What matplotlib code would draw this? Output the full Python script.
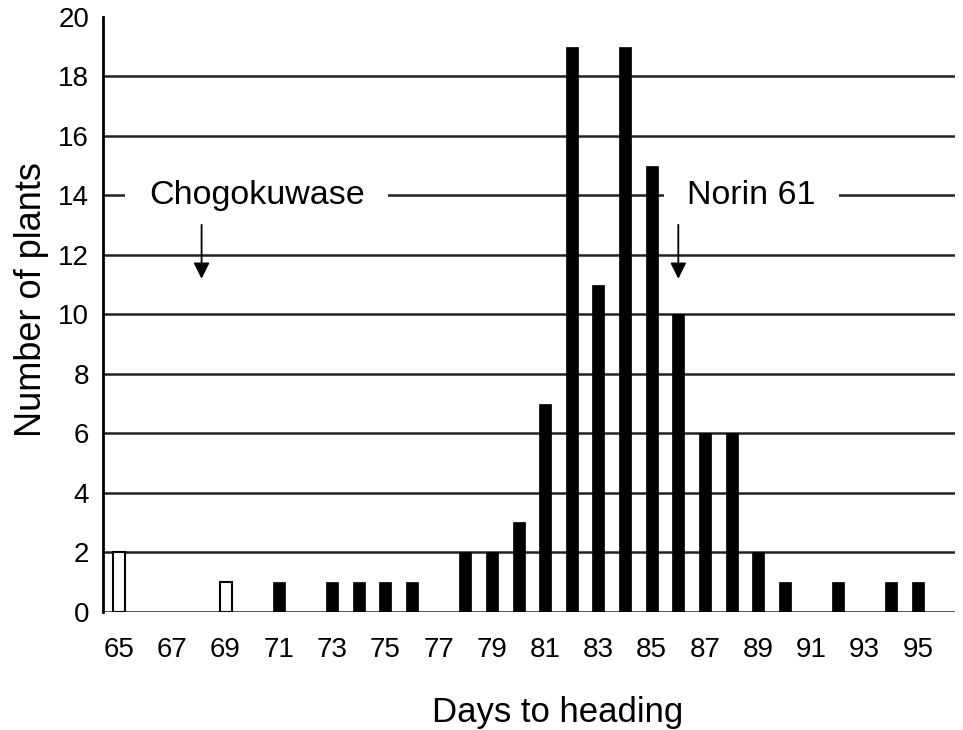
import matplotlib.pyplot as plt

plt.rcParams['font.family'] = ['Liberation Sans', 'DejaVu Sans']

# days to heading and counts (parents' plants in white, F2 in black)
parent_days = [65, 69]
parent_counts = [2, 1]
days = [71, 73, 74, 75, 76, 78, 79, 80, 81, 82, 83, 84, 85, 86, 87, 88, 89, 90, 92, 94, 95]
counts = [1, 1, 1, 1, 1, 2, 2, 3, 7, 19, 11, 19, 15, 10, 6, 6, 2, 1, 1, 1, 1]
xtick_days = list(range(65, 96, 2))
ytick_vals = list(range(0, 21, 2))

fig = plt.figure(figsize=(9.63, 7.3), dpi=100)
ax = fig.add_axes([0.107, 0.162, 0.885, 0.815])

# horizontal grid lines
for y in ytick_vals[:-1]:
    ax.axhline(y, color='#222222', linewidth=1.8, zorder=1)

ax.bar(parent_days, parent_counts, width=0.45, color='white', edgecolor='black',
       linewidth=1.5, zorder=3)
ax.bar(days, counts, width=0.45, color='black', edgecolor='black', linewidth=0.5, zorder=3)

# parent annotations
ax.text(70.17, 14, 'Chogokuwase', fontsize=24.5, ha='center', va='center', zorder=4,
        bbox=dict(facecolor='white', edgecolor='none', pad=17))
ax.text(88.74, 14, 'Norin 61', fontsize=24.5, ha='center', va='center', zorder=4,
        bbox=dict(facecolor='white', edgecolor='none', pad=17))
ax.annotate('', xy=(68.1, 11.1), xytext=(68.1, 13.1), zorder=5,
            arrowprops=dict(arrowstyle='-|>', color='black', lw=1.3, mutation_scale=24))
ax.annotate('', xy=(86.0, 11.1), xytext=(86.0, 13.1), zorder=5,
            arrowprops=dict(arrowstyle='-|>', color='black', lw=1.3, mutation_scale=24))

ax.set_xlim(64.4, 96.4)
ax.set_ylim(0, 20)
ax.set_xticks(xtick_days)
ax.set_yticks(ytick_vals)
ax.tick_params(axis='x', length=0, labelsize=20, pad=18)
ax.tick_params(axis='y', length=0, labelsize=20, pad=10)

for side in ['top', 'right', 'bottom']:
    ax.spines[side].set_visible(False)
ax.spines['left'].set_linewidth(2)

ax.set_xlabel('Days to heading', fontsize=25)
ax.set_ylabel('Number of plants', fontsize=26)
ax.xaxis.set_label_coords(0.533, -0.141)
ax.yaxis.set_label_coords(-0.063, 0.524)

fig.savefig('out.png', dpi=100)
